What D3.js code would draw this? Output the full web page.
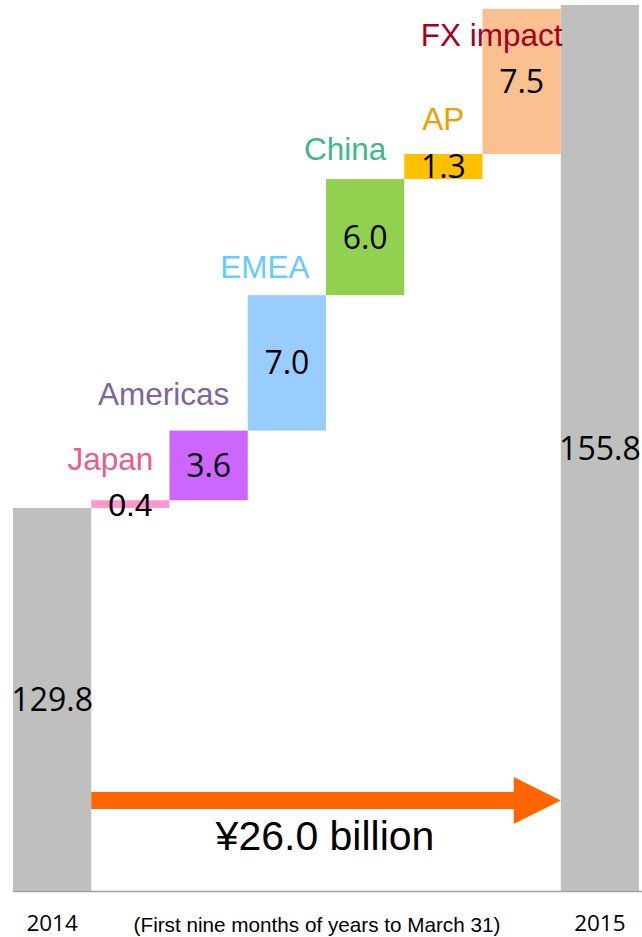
<!DOCTYPE html>
<html>
<head>
<meta charset="utf-8">
<script src="https://cdn.jsdelivr.net/npm/d3@7"></script>
<style>
  html, body { margin: 0; padding: 0; background: #ffffff; }
  svg { display: block; }
</style>
</head>
<body>
<svg id="chart" width="642" height="937"></svg>
<script>
// Bridge from first-nine-months 2014 to 2015 (¥ billion)
const categories = ["2014", "Japan", "Americas", "EMEA", "China", "AP", "FX impact", "2015"];
const values     = [129.8, 0.4, 3.6, 7.0, 6.0, 1.3, 7.5, 155.8];
const kinds      = ["total", "delta", "delta", "delta", "delta", "delta", "delta", "total"];
const barColors  = ["#bfbfbf", "#ff99cc", "#cc66ff", "#99ccff", "#92d050", "#ffc000", "#fac090", "#bfbfbf"];
const nameColors = [null, "#ea5b92", "#8064a2", "#66ccff", "#3cb88c", "#f39c00", "#a50021", null];
const yearLabels = ["2014", "2015"];
const footnote   = "(First nine months of years to March 31)";

// Label placement relative to each bar (dx from bar centre, dy from bar top)
const nameOffsets = [null, [-20, -30], [-45, -26], [-22, -17], [-20, -19], [0, -24], [-30, 37], null];

const svg = d3.select("#chart");

const x = d3.scaleBand().domain(categories).range([13, 639]).padding(0);
const y = d3.scaleLinear().domain([110, 155.8]).range([891, 5]);

// Build waterfall segments
let running = 0;
const bars = categories.map((c, i) => {
  let lo, hi;
  if (kinds[i] === "total") {
    lo = 110; hi = values[i]; running = values[i];
  } else {
    lo = running; hi = running + values[i]; running = hi;
  }
  return { cat: c, value: values[i], lo, hi, kind: kinds[i], color: barColors[i], name: nameColors[i], off: nameOffsets[i] };
});

// Bars
svg.append("g").selectAll("rect").data(bars).join("rect")
  .attr("x", d => x(d.cat))
  .attr("width", x.bandwidth())
  .attr("y", d => y(d.hi))
  .attr("height", d => y(d.lo) - y(d.hi))
  .attr("fill", d => d.color);

// Baseline axis with year labels only
const axis = d3.axisBottom(x)
  .tickSize(0)
  .tickFormat(d => yearLabels.includes(d) ? d : "");
const gx = svg.append("g").attr("transform", `translate(0,${y(110)})`).call(axis);
gx.select(".domain").attr("stroke", "#a0a0a0").attr("stroke-width", 1.5)
  .attr("d", `M13,0.5H642`);
gx.selectAll(".tick text")
  .attr("dy", 0).attr("y", 40)
  .attr("font-family", "'Open Sans', sans-serif")
  .attr("font-size", 22.5)
  .attr("fill", "#000");

svg.append("text")
  .attr("x", 317).attr("y", 932)
  .attr("text-anchor", "middle")
  .attr("font-family", "'Liberation Sans', Arial, sans-serif")
  .attr("font-size", 20.7)
  .attr("fill", "#000")
  .text(footnote);

// Value labels
svg.append("g").selectAll("text").data(bars).join("text")
  .attr("x", d => x(d.cat) + x.bandwidth() / 2)
  .attr("y", d => {
    if (d.cat === "Japan") return y(d.lo) + 8;
    return (y(d.lo) + y(d.hi)) / 2 + 11.5;
  })
  .attr("text-anchor", "middle")
  .attr("font-family", d => d.cat === "Japan" ? "'Liberation Sans', Arial, sans-serif" : "'Open Sans', sans-serif")
  .attr("font-size", 32)
  .attr("fill", "#000")
  .text(d => d3.format(".1f")(d.value));

// Category names above the change bars
svg.append("g").selectAll("text").data(bars.filter(d => d.kind === "delta")).join("text")
  .attr("x", d => x(d.cat) + x.bandwidth() / 2 + d.off[0])
  .attr("y", d => y(d.hi) + d.off[1])
  .attr("text-anchor", "middle")
  .attr("font-family", "'Liberation Sans', Arial, sans-serif")
  .attr("font-size", 31.5)
  .attr("fill", d => d.name)
  .text(d => d.cat);

// Growth arrow between the two totals
const ax0 = x("2014") + x.bandwidth();
const ax1 = x("2015");
const headLen = 47, shaftHalf = 8.5, headHalf = 23.5, ay = 800.5;
svg.append("path")
  .attr("fill", "#ff6600")
  .attr("d", [
    `M${ax0},${ay - shaftHalf}`,
    `L${ax1 - headLen},${ay - shaftHalf}`,
    `L${ax1 - headLen},${ay - headHalf}`,
    `L${ax1},${ay}`,
    `L${ax1 - headLen},${ay + headHalf}`,
    `L${ax1 - headLen},${ay + shaftHalf}`,
    `L${ax0},${ay + shaftHalf}`, "Z"].join(""));

const growth = values[values.length - 1] - values[0];
svg.append("text")
  .attr("x", 325).attr("y", 850)
  .attr("text-anchor", "middle")
  .attr("font-family", "'Liberation Sans', Arial, sans-serif")
  .attr("font-size", 41)
  .attr("fill", "#000")
  .text(`¥${d3.format(".1f")(growth)} billion`);
</script>
</body>
</html>
